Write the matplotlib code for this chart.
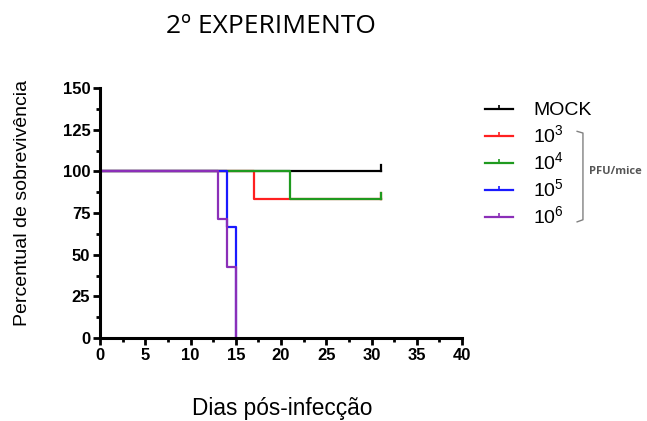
import matplotlib.pyplot as plt
from matplotlib.ticker import MultipleLocator

plt.rcParams['font.family'] = ['Liberation Sans', 'DejaVu Sans']
plt.rcParams['mathtext.fontset'] = 'custom'
plt.rcParams['mathtext.rm'] = 'Liberation Sans'
plt.rcParams['mathtext.default'] = 'regular'

# survival curves (days, % survival)
mock_t = [0, 31]
mock_s = [100, 100]
e3_t = [0, 17, 31]
e3_s = [100, 83.3, 83.3]
e4_t = [0, 21, 31]
e4_s = [100, 83.3, 83.3]
e5_t = [0, 14, 15]
e5_s = [100, 66.7, 0]
e6_t = [0, 13, 14, 15]
e6_s = [100, 71.4, 42.9, 0]

labels = ['MOCK', '10$^3$', '10$^4$', '10$^5$', '10$^6$']
colors = ['black', '#ff2020', '#1f9a1f', '#1a1aff', '#8b2fb8']
censored = [True, True, True, False, False]

fig = plt.figure(figsize=(6.47, 4.21), dpi=100)
ax = fig.add_axes([0.1546, 0.197, 0.5595, 0.594])

series = [(mock_t, mock_s), (e3_t, e3_s), (e4_t, e4_s), (e5_t, e5_s), (e6_t, e6_s)]
handles = []
tick_up = [(0, 0), (0, 1)]
for (t, s), lab, c, cens in zip(series, labels, colors, censored):
    ax.step(t, s, where='post', color=c, lw=1.6)
    if cens:
        ax.plot([t[-1], t[-1]], [s[-1], s[-1] + 4], color=c, lw=1.6)
    h, = ax.plot([], [], color=c, lw=1.6, marker=tick_up, markersize=6,
                 markeredgewidth=1.2, label=lab)
    handles.append(h)

ax.set_xlim(0, 40)
ax.set_ylim(0, 150)
ax.xaxis.set_major_locator(MultipleLocator(5))
ax.xaxis.set_minor_locator(MultipleLocator(2.5))
ax.yaxis.set_major_locator(MultipleLocator(25))
ax.yaxis.set_minor_locator(MultipleLocator(12.5))
for side in ['top', 'right']:
    ax.spines[side].set_visible(False)
for side in ['left', 'bottom']:
    ax.spines[side].set_linewidth(2.2)
ax.tick_params(which='major', length=5, width=2, labelsize=12, pad=2)
ax.tick_params(which='minor', length=3, width=2)
for lbl in ax.get_xticklabels() + ax.get_yticklabels():
    lbl.set_fontweight('bold')

ax.set_xlabel('Dias pós-infecção', fontsize=16.3, va='center')
ax.xaxis.set_label_coords(0.503, -0.28)
ax.set_ylabel('Percentual de sobrevivência', fontsize=14, va='center')
ax.yaxis.set_label_coords(-0.215, 0.54)
fig.text(0.419, 0.936, '2º EXPERIMENTO', fontsize=19, ha='center', va='center',
         family=['Open Sans', 'DejaVu Sans'])

leg = fig.legend(handles=handles, loc='upper left', bbox_to_anchor=(0.75, 0.758),
                 frameon=False, fontsize=14, handlelength=1.45, handletextpad=1.0,
                 labelspacing=0.26, borderpad=0, borderaxespad=0)

# bracket for PFU/mice
fig.add_artist(plt.Line2D([0.892, 0.901, 0.901, 0.892], [0.688, 0.684, 0.478, 0.473],
                          color='grey', lw=1.0, transform=fig.transFigure))
fig.text(0.91, 0.592, 'PFU/mice', fontsize=8, va='center', ha='left',
         color='#555555', fontweight='bold', family=['Open Sans', 'DejaVu Sans'])

fig.savefig('out.png', dpi=100)
